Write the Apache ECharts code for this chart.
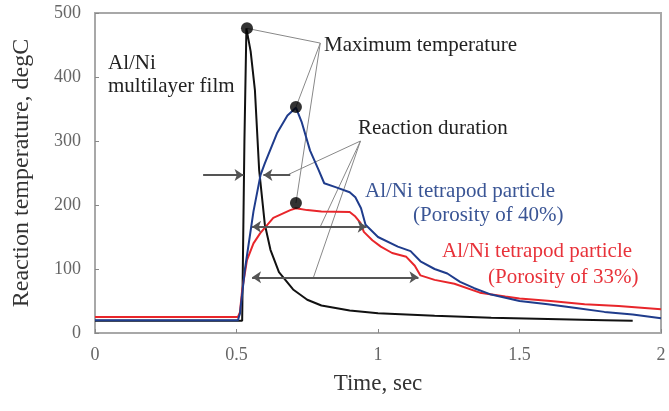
<!DOCTYPE html>
<html>
<head>
<meta charset="utf-8">
<script src="https://cdn.jsdelivr.net/npm/echarts@6/dist/echarts.min.js"></script>
<style>
  html, body { margin: 0; padding: 0; background: #fff; }
  #main { width: 669px; height: 411px; }
</style>
</head>
<body>
<div id="main"></div>
<script>
// data: [time sec, temperature degC]
var filmData = [[0,19],[0.2,19],[0.4,19],[0.52,19],[0.528,300],[0.535,476],[0.55,440],[0.565,380],
  [0.58,255],[0.6,170],[0.62,130],[0.65,95],[0.7,68],[0.75,52],[0.8,43],[0.9,35],[1.0,31],
  [1.2,27],[1.4,24],[1.6,22],[1.8,20],[1.9,19]];
var tetra40Data = [[0,20],[0.2,20],[0.4,20],[0.505,20],[0.512,30],[0.53,100],[0.56,190],[0.585,247],
  [0.6,265],[0.643,312],[0.68,340],[0.71,352],[0.73,330],[0.76,285],[0.79,255],[0.81,234],
  [0.85,228],[0.9,220],[0.92,212],[0.94,195],[0.956,169],[1.0,150],[1.07,135],[1.115,128],
  [1.15,112],[1.2,100],[1.245,93],[1.29,80],[1.34,70],[1.4,60],[1.5,50],[1.6,45],[1.7,39],
  [1.8,33],[1.9,29],[2.0,23]];
var tetra33Data = [[0,25],[0.2,25],[0.4,25],[0.505,25],[0.512,32],[0.52,67],[0.537,114],[0.56,140],
  [0.584,156],[0.63,180],[0.69,192],[0.71,195],[0.75,192],[0.8,190],[0.9,189],[0.92,182],
  [0.938,172],[0.95,158],[0.98,145],[1.01,135],[1.05,125],[1.1,119],[1.13,105],[1.15,90],
  [1.2,83],[1.27,77],[1.36,63],[1.45,57],[1.5,54],[1.61,50],[1.73,45],[1.85,42],[2.0,37]];
var peakPoints = [[0.537,476],[0.71,353],[0.71,203]];
var maxTempHub = [0.796,453];
var durationHub = [0.938,300];
var durationEnds = [[0.68,247],[0.796,166],[0.772,87]];
var xTicks = [0, 0.5, 1, 1.5, 2];
var yTicks = [0, 100, 200, 300, 400, 500];

var serif = '"Liberation Serif", "Times New Roman", serif';
var myChart = echarts.init(document.getElementById('main'));

function leaders(hub, ends) {
  var out = [];
  ends.forEach(function (p) { out.push(hub, p, null); });
  return out;
}

// text notes, placed by pixel (left edge, vertical middle)
function note(str, x, y, color) {
  return { type: 'text', x: x, y: y, silent: true,
    style: { text: str, font: '21px ' + serif, fill: color, verticalAlign: 'middle', align: 'left' } };
}

option = {
  animation: false,
  grid: { left: 95, right: 8, top: 13, bottom: 78, show: true, borderColor: '#a8a8a8', borderWidth: 2 },
  xAxis: {
    type: 'value', min: xTicks[0], max: xTicks[xTicks.length - 1], interval: 0.5,
    name: 'Time, sec', nameLocation: 'middle', nameGap: 39,
    nameTextStyle: { fontFamily: serif, fontSize: 23, color: '#333' },
    axisLine: { lineStyle: { color: '#a8a8a8', width: 2 } },
    axisTick: { inside: true, length: 4, lineStyle: { color: '#888' } },
    axisLabel: { fontFamily: serif, fontSize: 18, color: '#666', margin: 13 },
    splitLine: { show: false }
  },
  yAxis: {
    type: 'value', min: yTicks[0], max: yTicks[yTicks.length - 1], interval: 100,
    name: 'Reaction temperature, degC', nameLocation: 'middle', nameGap: 61,
    nameTextStyle: { fontFamily: serif, fontSize: 24, color: '#333' },
    axisLine: { show: true, lineStyle: { color: '#a8a8a8', width: 2 } },
    axisTick: { show: true, inside: true, length: 4, lineStyle: { color: '#888' } },
    axisLabel: { fontFamily: serif, fontSize: 18, color: '#666', margin: 14 },
    splitLine: { show: false }
  },
  series: [
    { type: 'line', name: 'leaders', data: leaders(maxTempHub, peakPoints).concat(leaders(durationHub, durationEnds)),
      showSymbol: false, connectNulls: false, lineStyle: { color: '#888', width: 1 }, z: 1 },
    { type: 'line', name: 'film', data: filmData, showSymbol: false, lineStyle: { color: '#111', width: 2 }, z: 3 },
    { type: 'line', name: 'tetra33', data: tetra33Data, showSymbol: false, lineStyle: { color: '#e8262b', width: 2 }, z: 3 },
    { type: 'line', name: 'tetra40', data: tetra40Data, showSymbol: false, lineStyle: { color: '#1f3c8c', width: 2 }, z: 4,
      markLine: {
        silent: true, symbolSize: [9, 9],
        lineStyle: { color: '#555', width: 2, type: 'solid' },
        label: { show: false },
        data: [
          [{ coord: [0.382, 247], symbol: 'none' }, { coord: [0.525, 247], symbol: 'arrow' }],
          [{ coord: [0.69, 247], symbol: 'none' }, { coord: [0.595, 247], symbol: 'arrow' }],
          [{ coord: [0.555, 166], symbol: 'arrow' }, { coord: [0.96, 166], symbol: 'arrow' }],
          [{ coord: [0.555, 87], symbol: 'arrow' }, { coord: [1.143, 87], symbol: 'arrow' }]
        ]
      } },
    { type: 'scatter', name: 'peaks', data: peakPoints, symbolSize: 12, itemStyle: { color: '#000' }, z: 5 }
  ],
  graphic: [
    note('Al/Ni', 108, 63, '#222'),
    note('multilayer film', 108, 86, '#222'),
    note('Maximum temperature', 324, 45, '#222'),
    note('Reaction duration', 358, 128, '#222'),
    note('Al/Ni tetrapod particle', 365, 191, '#3a5595'),
    note('(Porosity of 40%)', 413, 215, '#3a5595'),
    note('Al/Ni tetrapod particle', 442, 251, '#e8323a'),
    note('(Porosity of 33%)', 488, 277, '#e8323a')
  ]
};

myChart.setOption(option);
</script>
</body>
</html>
